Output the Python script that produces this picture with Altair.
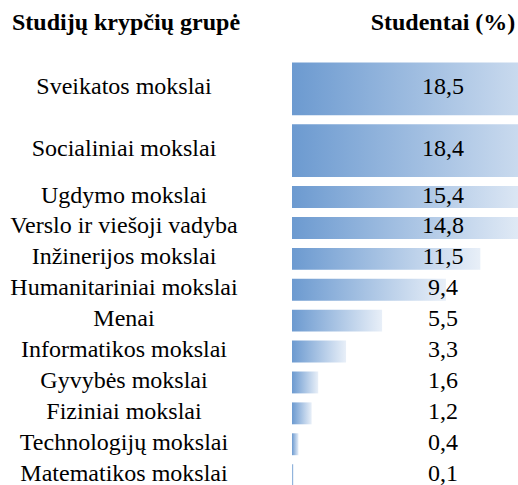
import altair as alt
import pandas as pd

groups = [
    "Sveikatos mokslai", "Socialiniai mokslai", "Ugdymo mokslai",
    "Verslo ir viešoji vadyba", "Inžinerijos mokslai", "Humanitariniai mokslai",
    "Menai", "Informatikos mokslai", "Gyvybės mokslai", "Fiziniai mokslai",
    "Technologijų mokslai", "Matematikos mokslai",
]
students = [18.5, 18.4, 15.4, 14.8, 11.5, 9.4, 5.5, 3.3, 1.6, 1.2, 0.4, 0.1]
headings = ["Studijų krypčių grupė", "Studentai (%)"]

# layout: first two rows are drawn double height
spans = [2 if i < 2 else 1 for i in range(len(groups))]
starts, ends = [], []
pos = 0
for s in spans:
    starts.append(pos)
    pos += s
    ends.append(pos)

df = pd.DataFrame({
    "group": groups,
    "value": students,
    "label": [f"{v:.1f}".replace(".", ",") for v in students],
    "start": starts,
    "end": ends,
    "mid": [(a + b) / 2 for a, b in zip(starts, ends)],
    "zero": [0] * len(groups),
})

SERIF = "Liberation Serif"
FS = 24
yscale = alt.Scale(domain=[0, 14], range=[58, 490.6], nice=False, zero=False)
xscale = alt.Scale(domain=[0, 13.8], range=[292, 518], nice=False, zero=False)

grad = alt.Gradient(
    gradient="linear",
    stops=[alt.GradientStop(color="#6c9ad0", offset=0),
           alt.GradientStop(color="#e8eff8", offset=1)],
    x1=0, x2=1, y1=0, y2=0,
)

bars = alt.Chart(df).mark_rect(color=grad, clip=True, yOffset=4.5, y2Offset=-4.5).encode(
    x=alt.X("zero:Q", scale=xscale, axis=None),
    x2="value:Q",
    y=alt.Y("start:Q", scale=yscale, axis=None),
    y2="end:Q",
)

names = alt.Chart(df).mark_text(
    font=SERIF, fontSize=FS, align="center", baseline="middle", color="#000000", dy=-1.5
).encode(
    x=alt.value(124),
    y=alt.Y("mid:Q", scale=yscale, axis=None),
    text="group:N",
)

vals = alt.Chart(df).mark_text(
    font=SERIF, fontSize=FS, align="center", baseline="middle", color="#000000", dy=-1.5
).encode(
    x=alt.value(443),
    y=alt.Y("mid:Q", scale=yscale, axis=None),
    text="label:N",
)

h1 = alt.Chart(alt.Data(values=[{"t": headings[0]}])).mark_text(
    font=SERIF, fontSize=FS, fontWeight="bold", align="center", baseline="middle", color="#000000"
).encode(x=alt.value(126), y=alt.value(23), text="t:N")

h2 = alt.Chart(alt.Data(values=[{"t": headings[1]}])).mark_text(
    font=SERIF, fontSize=FS, fontWeight="bold", align="center", baseline="middle", color="#000000"
).encode(x=alt.value(443), y=alt.value(23), text="t:N")

chart = alt.layer(bars, names, vals, h1, h2).properties(
    width=518, height=485,
    autosize=alt.AutoSizeParams(type="none"),
    padding=0,
    background="#ffffff",
).configure_view(stroke=None)

chart.save("out.html", embed_options={"renderer": "svg", "actions": False})
